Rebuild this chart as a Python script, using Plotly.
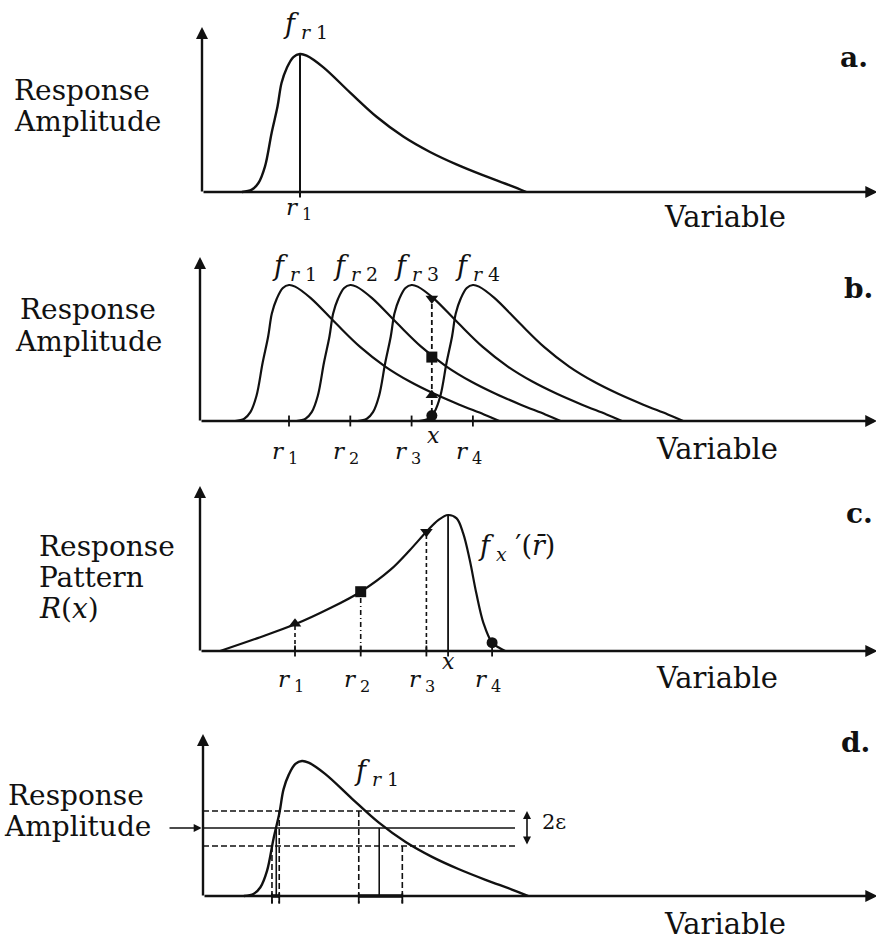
import plotly.graph_objects as go

W, H = 876, 944

# ---------------- data ----------------
r_values = [1, 2, 3, 4]
r_names = ["1", "2", "3", "4"]

# tuning curve f_r : offset from its preferred value r, relative amplitude
profile_offset = [-0.88, -0.73, -0.63, -0.53, -0.43, -0.34, -0.28, -0.20, -0.10, 0.0,
                  0.10, 0.35, 0.76, 1.16, 1.57, 1.97, 2.37, 2.78, 3.18, 3.43]
profile_amp = [0.0, 0.017, 0.065, 0.186, 0.428, 0.621, 0.79, 0.899, 0.978, 1.0,
               0.988, 0.905, 0.72, 0.545, 0.40, 0.29, 0.20, 0.12, 0.048, 0.0]

stimulus_x = 3.33
response_at_x = [0.19, 0.47, 0.90, 0.04]          # f_r1..f_r4 evaluated at x
marker_symbols = ["triangle-up", "square", "triangle-down", "circle"]

pattern_r = [-0.14, 0.42, 1.0, 1.53, 2.0, 2.45, 2.75, 3.0, 3.18, 3.33,
             3.46, 3.56, 3.66, 3.76, 3.87, 4.0, 4.12, 4.2]
pattern_amp = [0.0, 0.093, 0.196, 0.314, 0.436, 0.596, 0.743, 0.877, 0.963, 1.0,
               0.975, 0.865, 0.669, 0.424, 0.203, 0.061, 0.02, 0.0]
pattern_marks = [0.2, 0.436, 0.877, 0.061]
pattern_drop_dash = ["4px,3px", "5px,3px,1px,3px", "4px,3px"]

band_levels = [0.37, 0.504, 0.63]          # lower bound, response, upper bound
band_rise_x = [0.545, 0.61, 0.655]
band_fall_x = [2.52, 2.17, 1.86]
band_dash = ["6px,3px", None, "6px,3px"]

# ---------------- layout geometry (pixels) ----------------
panels = [
    dict(base=192, peak=54, r1px=300, unit=66.0, axpx=202, top=27),
    dict(base=421, peak=285, r1px=289, unit=61.3, axpx=200, top=257),
    dict(base=651, peak=515, r1px=295, unit=65.7, axpx=200, top=486),
    dict(base=896, peak=761, r1px=302, unit=66.0, axpx=203, top=734),
]
SERIF = "DejaVu Serif"
INK = "#111111"


def xrange_of(P):
    xmin = 1 - P["r1px"] / P["unit"]
    return [xmin, xmin + W / P["unit"]]


def yrange_of(P):
    u = P["base"] - P["peak"]
    ymax = P["base"] / u
    return [ymax - H / u, ymax]


def dx(P, px):
    return 1 + (px - P["r1px"]) / P["unit"]


def dy(P, py):
    return (P["base"] - py) / (P["base"] - P["peak"])


def refs(i):
    return ("x" if i == 0 else f"x{i+1}", "y" if i == 0 else f"y{i+1}")


fig = go.Figure()
annotations = []


def line(i, xs, ys, width=2.0, dash=None, shape="linear"):
    xa, ya = refs(i)
    fig.add_trace(go.Scatter(
        x=xs, y=ys, mode="lines", xaxis=xa, yaxis=ya, hoverinfo="skip",
        line=dict(color=INK, width=width, dash=dash, shape=shape, smoothing=1.0),
        showlegend=False, cliponaxis=False))


def marks(i, xs, ys, symbols):
    xa, ya = refs(i)
    fig.add_trace(go.Scatter(
        x=xs, y=ys, mode="markers", xaxis=xa, yaxis=ya, hoverinfo="skip",
        marker=dict(color=INK, size=11, symbol=symbols, line=dict(width=0)),
        showlegend=False, cliponaxis=False))


def arrow(i, xh, yh, xt, yt, width=2.4, head=2, size=1.0, both=False):
    xa, ya = refs(i)
    annotations.append(dict(
        x=xh, y=yh, ax=xt, ay=yt, xref=xa, yref=ya, axref=xa, ayref=ya,
        text="", showarrow=True, arrowhead=head, arrowsize=size,
        arrowwidth=width, arrowcolor=INK,
        arrowside="end+start" if both else "end",
        startarrowhead=head, startarrowsize=size))


def text(px, py_base, s, size, anchor="left"):
    yc = py_base - 0.345 * size
    annotations.append(dict(
        x=px / W, y=1 - yc / H, xref="paper", yref="paper", text=s,
        showarrow=False, xanchor=anchor, yanchor="middle",
        font=dict(family=SERIF, size=size, color=INK)))


def dtext(i, x, y, s, size, xshift=0, yshift=0, anchor="center"):
    xa, ya = refs(i)
    annotations.append(dict(
        x=x, y=y, xref=xa, yref=ya, text=s, showarrow=False,
        xanchor=anchor, yanchor="middle", xshift=xshift, yshift=yshift,
        font=dict(family=SERIF, size=size, color=INK)))


def axes(i):
    P = panels[i]
    x0 = dx(P, P["axpx"])
    xr = xrange_of(P)
    arrow(i, x0, dy(P, P["top"]), x0, dy(P, P["base"] + 1))
    arrow(i, xr[1] + 0.02, 0, x0, 0)


def curve_label(idx):
    return f"<i>f</i><sub> <i>r</i> {r_names[idx]}</sub>"


def r_label(idx):
    return f"<i>r</i><sub> {r_names[idx]}</sub>"


LBL = 28
TICK = 0.04

# ---------------- panel a ----------------
P = panels[0]
axes(0)
line(0, [r_values[0] + o for o in profile_offset], profile_amp, 2.4, shape="spline")
line(0, [r_values[0], r_values[0]], [1.0, -0.04], 2.0)
dtext(0, r_values[0], dy(P, 25), curve_label(0), 27, xshift=5)
dtext(0, r_values[0], dy(P, 209), r_label(0), 23, xshift=-1)
text(12, 100, "Response", LBL)
text(12, 131, "Amplitude", LBL)
text(662, 227, "Variable", 29)
text(870, 67, "<b>a.</b>", 28, anchor="right")

# ---------------- panel b ----------------
P = panels[1]
axes(1)
for k, r in enumerate(r_values):
    line(1, [r + o for o in profile_offset], profile_amp, 2.2, shape="spline")
    line(1, [r, r], [-TICK, TICK], 1.8)
    dtext(1, r, dy(P, 267), curve_label(k), 27, xshift=5)
    dtext(1, r, dy(P, 453), r_label(k), 23, xshift=-4)
line(1, [stimulus_x, stimulus_x], [0, max(response_at_x)], 1.8, dash="5px,3px")
marks(1, [stimulus_x] * 4, response_at_x, marker_symbols)
dtext(1, stimulus_x, dy(P, 435), "<i>x</i>", 22, xshift=2)
text(18, 319, "Response", LBL)
text(13, 351, "Amplitude", LBL)
text(654, 459, "Variable", 29)
text(875, 298, "<b>b.</b>", 28, anchor="right")

# ---------------- panel c ----------------
P = panels[2]
axes(2)
line(2, pattern_r, pattern_amp, 2.2, shape="spline")
for k, r in enumerate(r_values):
    line(2, [r, r], [-TICK, TICK], 1.8)
    dtext(2, r, dy(P, 681), r_label(k), 23, xshift=-4)
for k in range(3):
    line(2, [r_values[k], r_values[k]], [0, pattern_marks[k]], 1.6, dash=pattern_drop_dash[k])
line(2, [stimulus_x, stimulus_x], [1.0, -TICK], 1.8)
marks(2, r_values, pattern_marks, marker_symbols)
dtext(2, stimulus_x, dy(P, 661), "<i>x</i>", 22)
annotations.append(dict(
    x=476 / W, y=1 - 547 / H, xref="paper", yref="paper",
    text="<i>f</i><sub> <i>x</i></sub> \u2032(<i>r\u0304</i>)", showarrow=False,
    xanchor="left", yanchor="middle", font=dict(family=SERIF, size=27, color=INK)))
text(37, 556, "Response", LBL)
text(37, 587, "Pattern", LBL)
text(37, 618, "<i>R</i>(<i>x</i>)", LBL)
text(654, 688, "Variable", 29)
text(875, 523, "<b>c.</b>", 28, anchor="right")

# ---------------- panel d ----------------
P = panels[3]
axes(3)
line(3, [r_values[0] + o for o in profile_offset], profile_amp, 2.4, shape="spline")
x_axis0 = dx(P, P["axpx"])
x_band_end = dx(P, 515)
for lev, dsh in zip(band_levels, band_dash):
    line(3, [x_axis0, x_band_end], [lev, lev], 1.6, dash=dsh)
for k in range(3):
    bottom = 0 if band_dash[k] is None else -0.055
    line(3, [band_rise_x[k], band_rise_x[k]], [band_levels[k], bottom], 1.6, dash=band_dash[k])
    line(3, [band_fall_x[k], band_fall_x[k]], [band_levels[k], bottom], 1.6, dash=band_dash[k])
    if band_dash[k] is not None:
        line(3, [band_rise_x[k], band_rise_x[k]], [0.02, -0.055], 1.8)
        line(3, [band_fall_x[k], band_fall_x[k]], [0.02, -0.055], 1.8)
line(3, [band_rise_x[0], band_rise_x[2]], [0, 0], 3.5)
line(3, [band_fall_x[2], band_fall_x[0]], [0, 0], 3.5)
dtext(3, r_values[0], dy(P, 772), curve_label(0), 27, xshift=74)
arrow(3, dx(P, 527), band_levels[2], dx(P, 527), band_levels[0], width=1.6, head=2, size=1.0, both=True)
text(540, 829, "2\u03b5", 21)
arrow(3, x_axis0 - 0.02, band_levels[1], dx(P, 168), band_levels[1], width=1.6, head=2, size=1.0)
text(6, 805, "Response", LBL)
text(2, 836, "Amplitude", LBL)
text(662, 934, "Variable", 29)
text(872, 752, "<b>d.</b>", 28, anchor="right")

# ---------------- axes / layout ----------------
layout = dict(
    width=W, height=H, margin=dict(l=0, r=0, t=0, b=0),
    paper_bgcolor="white", plot_bgcolor="rgba(0,0,0,0)",
    showlegend=False, annotations=annotations,
)
for i, P in enumerate(panels):
    suf = "" if i == 0 else str(i + 1)
    layout["xaxis" + suf] = dict(domain=[0, 1], range=xrange_of(P), visible=False,
                                 anchor="y" + suf, fixedrange=True)
    layout["yaxis" + suf] = dict(domain=[0, 1], range=yrange_of(P), visible=False,
                                 anchor="x" + suf, fixedrange=True)
fig.update_layout(**layout)
fig.write_html("out.html", config={"displayModeBar": False},
               post_script="document.body.style.margin='0';document.body.style.overflow='hidden';")
